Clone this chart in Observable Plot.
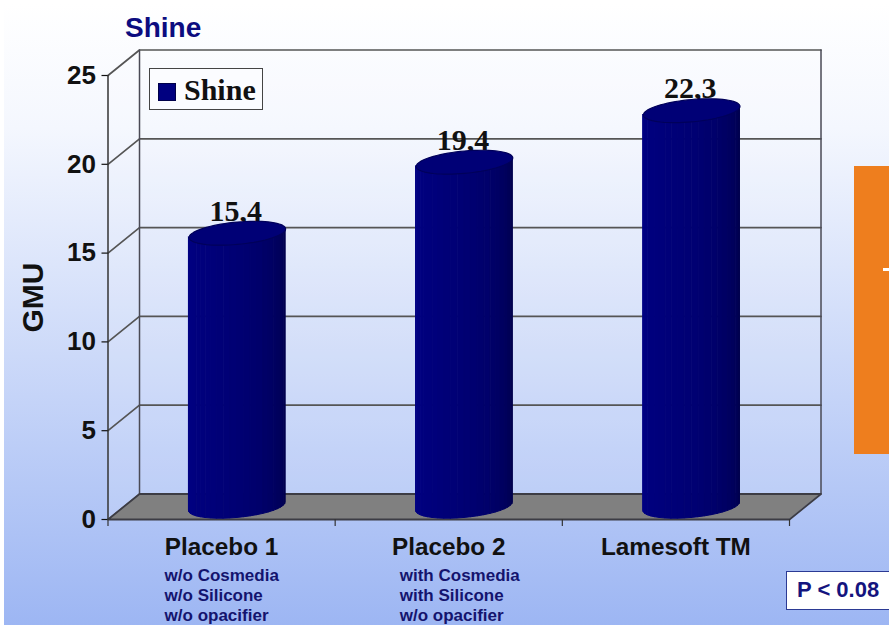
<!DOCTYPE html>
<html><head><meta charset="utf-8">
<script src="https://cdn.jsdelivr.net/npm/d3@7"></script>
<script src="https://cdn.jsdelivr.net/npm/@observablehq/plot@0.6"></script>
<style>
html,body{margin:0;padding:0;background:#fff;width:889px;height:625px;overflow:hidden}
#stage{position:absolute;left:4px;top:4px;width:885px;height:621px;background:linear-gradient(#ffffff 0%,#f4f7fe 20%,#9db6f3 100%)}
#chart{position:absolute;left:0;top:0;width:889px;height:625px}
#chart svg{background:transparent;display:block}
.o{position:absolute;box-sizing:border-box;white-space:nowrap}
</style></head><body>
<div id="stage"></div><div id="chart"></div>
<div class="o" style="left:125px;top:12px;font:bold 28px 'Liberation Sans';color:#0c0c80;line-height:32px">Shine</div>
<div class="o" style="left:149px;top:68px;width:114px;height:42px;background:#fbfcff;border:1.5px solid #444">
  <div class="o" style="left:8px;top:14px;width:18px;height:18px;background:#000080;border:1px solid #00004a"></div>
  <div class="o" style="left:34px;top:3px;font:bold 30px 'Liberation Serif';color:#111;line-height:36px">Shine</div>
</div>
<div class="o" style="left:786px;top:571px;width:103px;height:39px;background:#fff;border:1.5px solid #2b3a94;border-right:none;font:bold 22px 'Liberation Sans';color:#14147e;line-height:35px;padding-left:10px">P &lt; 0.08</div>
<div class="o" style="left:854px;top:166px;width:35px;height:288px;background:#ee7e1e"></div>
<div class="o" style="left:883px;top:268px;width:6px;height:3px;background:#fff"></div>
<script>
const categories = ["Placebo 1", "Placebo 2", "Lamesoft TM"];
const values = [15.4, 19.4, 22.3];
const yTicks = [0, 5, 10, 15, 20, 25];
const subLabelsA = ["w/o Cosmedia", "w/o Silicone", "w/o opacifier"];
const subLabelsB = ["with Cosmedia", "with Silicone", "w/o opacifier"];

// oblique depth of the 3-D box, in data units
const depthX = 0.1387, depthY = 1.436;
const majorX = 0.2126, majorY = 0.24, minorY = 0.63;
const stripCount = 22;

const barCenter = i => i + 0.5 + depthX / 2;
const ellipsePoint = (i, v, t) => ({
  x: barCenter(i) + majorX * Math.cos(t),
  y: v + depthY / 2 + majorY * Math.cos(t) + minorY * Math.sin(t)
});

// cylinder body strips
const strips = [];
values.forEach((v, i) => {
  for (let s = 0; s < stripCount; s++) {
    const k = (s + 0.5) / stripCount;
    const shade = d3.interpolateRgbBasis(["#000084", "#00007c", "#000074", "#000066", "#00004c"])(k);
    const t0 = Math.PI + Math.PI * s / stripCount;
    const t1 = Math.PI + Math.PI * (s + 1) / stripCount;
    [t0, t1].forEach(t => {
      const low = ellipsePoint(i, 0, t), up = ellipsePoint(i, v, t);
      strips.push({id: i * 100 + s, x: low.x, y1: low.y, y2: up.y, c: d3.color(shade).formatHex()});
    });
  }
});
// cylinder tops
const capPoints = [];
values.forEach((v, i) => {
  d3.range(0, 73).forEach(n => {
    const p = ellipsePoint(i, v, n * 2 * Math.PI / 72);
    capPoints.push({id: i, x: p.x, y: p.y});
  });
});
// walls and grid
const gridLines = yTicks.filter(t => t > 0).flatMap(t => [
  {id: t, x: 0, y: t}, {id: t, x: depthX, y: t + depthY}, {id: t, x: 3 + depthX, y: t + depthY}
]);
const yMax = yTicks[yTicks.length - 1];
const verticals = [
  {id: "a", x: depthX, y: depthY}, {id: "a", x: depthX, y: yMax + depthY},
  {id: "b", x: 3 + depthX, y: depthY}, {id: "b", x: 3 + depthX, y: yMax + depthY}
];
const floorEdge = [{x: 0, y1: 0, y2: 0}, {x: depthX, y1: 0, y2: depthY}, {x: 3, y1: 0, y2: depthY}, {x: 3 + depthX, y1: depthY, y2: depthY}];
const floorOutline = [{x: 0, y: 0}, {x: 3, y: 0}, {x: 3 + depthX, y: depthY}, {x: depthX, y: depthY}, {x: 0, y: 0}];
const wallArea = [{x: 0, y1: 0, y2: yMax}, {x: depthX, y1: depthY, y2: yMax + depthY}, {x: 3 + depthX, y1: depthY, y2: yMax + depthY}];

const serif = "Liberation Serif", sans = "Liberation Sans";
const plot = Plot.plot({
  width: 889, height: 625,
  marginLeft: 107.5, marginRight: 100, marginTop: 75, marginBottom: 106,
  style: {background: "transparent", overflow: "visible"},
  x: {domain: [0, 3], axis: null},
  y: {domain: [0, 25], axis: null},
  color: {type: "identity"},
  marks: [
    Plot.area(wallArea, {x1: "x", y1: "y1", y2: "y2", fill: "#ffffff", fillOpacity: 0.13}),
    Plot.area(floorEdge, {x1: "x", y1: "y1", y2: "y2", fill: "#808080"}),
    Plot.line(gridLines, {x: "x", y: "y", z: "id", stroke: "#555", strokeWidth: 1.7}),
    Plot.line(verticals, {x: "x", y: "y", z: "id", stroke: "#4a4a55", strokeWidth: 1.5}),
    Plot.line(floorOutline, {x: "x", y: "y", stroke: "#3c3c44", strokeWidth: 1.8}),
    Plot.ruleX([0], {y1: 0, y2: yMax, stroke: "#333", strokeWidth: 1.5}),
    Plot.axisY({ticks: yTicks, anchor: "left", tickSize: 6, tickPadding: 6, label: null, color: "#111",
      fontFamily: sans, fontSize: 26, fontWeight: "bold", strokeWidth: 1.2}),
    Plot.axisX({ticks: [0, 1, 2, 3], anchor: "bottom", tickSize: 7, tickFormat: () => "", label: null, color: "#333", strokeWidth: 1.2}),
    Plot.text(["GMU"], {x: 0, y: yMax / 2, dx: -75, rotate: -90, textAnchor: "middle", fontFamily: sans, fontWeight: "bold", fontSize: 30, fill: "#111"}),
    Plot.text(categories, {x: (d, i) => i + 0.5, y: 0, dy: 28, fontFamily: sans, fontWeight: "bold", fontSize: 24.3, fill: "#111"}),
    Plot.text([subLabelsA.join("\n")], {x: 0.5, y: 0, dx: -57, dy: 75, lineHeight: 1.176, textAnchor: "start", fontFamily: sans, fontWeight: "bold", fontSize: 17, fill: "#14146e"}),
    Plot.text([subLabelsB.join("\n")], {x: 1.5, y: 0, dx: -49, dy: 75, lineHeight: 1.176, textAnchor: "start", fontFamily: sans, fontWeight: "bold", fontSize: 17, fill: "#14146e"}),
    Plot.text(values, {x: (d, i) => barCenter(i), y: d => d, dx: -1.5, dy: -25, lineAnchor: "bottom",
      text: d => d.toFixed(1).replace(".", ","), fontFamily: serif, fontWeight: "bold", fontSize: 30, fill: "#111"}),
    Plot.area(strips, {x1: "x", y1: "y1", y2: "y2", z: "id", fill: "c", stroke: "c", strokeWidth: 1}),
    Plot.line(capPoints, {x: "x", y: "y", z: "id", fill: "#000076", stroke: "#00005a", strokeWidth: 1.2})
  ]
});
document.getElementById("chart").appendChild(plot);
</script>
</body></html>
